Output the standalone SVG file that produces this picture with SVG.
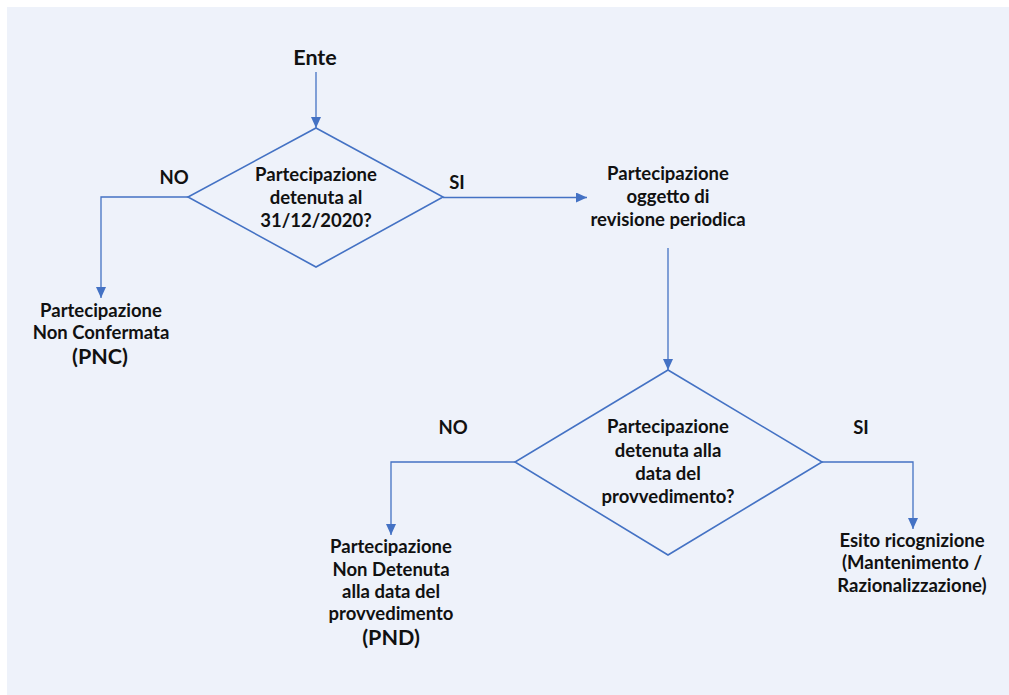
<svg xmlns="http://www.w3.org/2000/svg" width="1009" height="695" viewBox="0 0 1009 695">
<style>
text{font-family:"Lato","Liberation Sans",sans-serif;font-weight:bold;font-size:18.5px;fill:#111;text-anchor:middle}
.big{font-size:21.5px}
.ln{fill:none;stroke:#4472c4;stroke-width:1.3}
.dm{fill:none;stroke:#4472c4;stroke-width:1.6}
</style>
<defs>
<marker id="ah" markerWidth="11" markerHeight="10" refX="11" refY="5" orient="auto" markerUnits="userSpaceOnUse">
<path d="M0,0 L11,5 L0,10 Z" fill="#4472c4"/>
</marker>
</defs>
<rect x="7" y="7" width="1002" height="688" fill="#eef2fa"/>
<g id="connectors">
<path class="ln" d="M316,72 V128" marker-end="url(#ah)"/>
<path class="ln" d="M188,197 H101 V298" marker-end="url(#ah)"/>
<path class="ln" d="M443,197.5 H587" marker-end="url(#ah)"/>
<path class="ln" d="M668,248 V370" marker-end="url(#ah)"/>
<path class="ln" d="M515,462 H391 V535" marker-end="url(#ah)"/>
<path class="ln" d="M822,462 H913 V529" marker-end="url(#ah)"/>
<text x="174" y="184">NO</text>
<text x="457" y="189">SI</text>
<text x="453" y="434">NO</text>
<text x="861" y="434">SI</text>
</g>
<g id="ente"><text class="big" x="315" y="65">Ente</text></g>
<g id="d1">
<polygon class="dm" points="316,128 443,197 316,267 188,197"/>
<text x="316" y="181">Partecipazione</text>
<text x="316" y="204">detenuta al</text>
<text x="316" y="227">31/12/2020?</text>
</g>
<g id="pnc">
<text x="101" y="317">Partecipazione</text>
<text x="101" y="339">Non Confermata</text>
<text class="big" x="100" y="364">(PNC)</text>
</g>
<g id="revisione">
<text x="668" y="180">Partecipazione</text>
<text x="668" y="203">oggetto di</text>
<text x="668" y="226">revisione periodica</text>
</g>
<g id="d2">
<polygon class="dm" points="668,370 822,462 668,555 515,462"/>
<text x="668" y="433">Partecipazione</text>
<text x="668" y="457">detenuta alla</text>
<text x="668" y="480">data del</text>
<text x="668" y="503">provvedimento?</text>
</g>
<g id="pnd">
<text x="391" y="553">Partecipazione</text>
<text x="391" y="576">Non Detenuta</text>
<text x="391" y="598">alla data del</text>
<text x="391" y="620">provvedimento</text>
<text class="big" x="391" y="645">(PND)</text>
</g>
<g id="esito">
<text x="912" y="547">Esito ricognizione</text>
<text x="912" y="569">(Mantenimento /</text>
<text x="912" y="592">Razionalizzazione)</text>
</g>
</svg>
